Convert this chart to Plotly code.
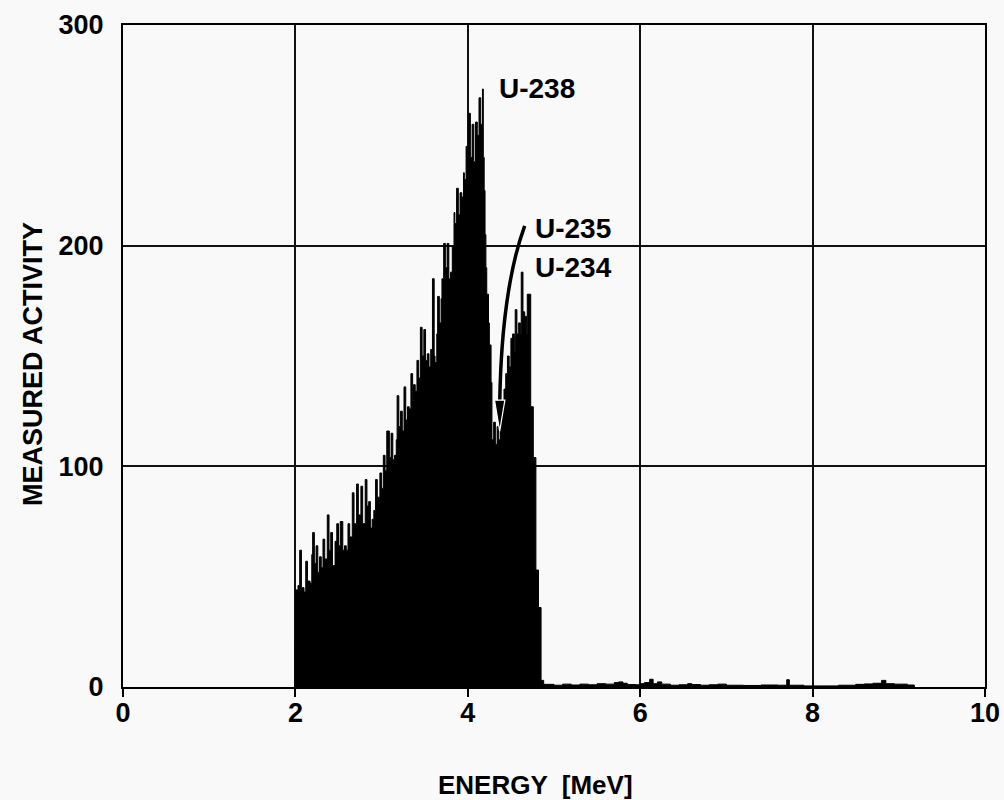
import plotly.graph_objects as go

# Alpha spectrum: energy (MeV) and measured activity (counts)
energy = [
    1.99, 2.00, 2.03, 2.05, 2.07, 2.10, 2.12, 2.14, 2.17, 2.19, 2.20, 2.22, 2.24, 2.26, 2.28,
    2.30, 2.32, 2.34, 2.37, 2.39, 2.41, 2.43, 2.46, 2.48, 2.50, 2.52, 2.55, 2.57, 2.59, 2.61,
    2.63, 2.66, 2.68, 2.71, 2.73, 2.76, 2.78, 2.81, 2.83, 2.85, 2.87, 2.89, 2.91, 2.93, 2.95,
    2.98, 3.00, 3.02, 3.04, 3.06, 3.09, 3.11, 3.13, 3.15, 3.17, 3.18, 3.20, 3.22, 3.24, 3.26,
    3.28, 3.30, 3.32, 3.34, 3.36, 3.37, 3.39, 3.41, 3.43, 3.45, 3.47, 3.49, 3.51, 3.53, 3.55,
    3.57, 3.58, 3.59, 3.61, 3.62, 3.64, 3.65, 3.67, 3.69, 3.70, 3.72, 3.74, 3.76, 3.78, 3.80,
    3.82, 3.84, 3.85, 3.87, 3.89, 3.91, 3.93, 3.95, 3.96, 3.98, 3.99, 4.01, 4.03, 4.05, 4.07,
    4.09, 4.11, 4.13, 4.15, 4.17, 4.18, 4.19, 4.20, 4.21, 4.22, 4.24, 4.25, 4.27, 4.28, 4.30,
    4.32, 4.34, 4.36, 4.38, 4.40, 4.42, 4.44, 4.46, 4.48, 4.50, 4.52, 4.54, 4.55, 4.57, 4.59,
    4.61, 4.62, 4.64, 4.66, 4.68, 4.69, 4.72, 4.73, 4.76, 4.79, 4.82, 4.85, 4.88,
    5.00, 5.10, 5.20, 5.30, 5.40, 5.50, 5.60, 5.70, 5.75, 5.80, 5.85, 5.95, 6.00, 6.05, 6.11,
    6.15, 6.20, 6.25, 6.35, 6.45, 6.55, 6.60, 6.70, 6.80, 6.90, 7.00, 7.20, 7.40, 7.60, 7.70,
    7.73, 7.90, 8.10, 8.30, 8.50, 8.60, 8.70, 8.80, 8.85, 8.95, 9.10, 9.18,
]
activity = [
    20, 44, 46, 62, 45, 43, 57, 48, 47, 60, 70, 56, 64, 52, 59,
    54, 67, 58, 78, 62, 70, 55, 66, 74, 64, 75, 62, 64, 62, 74,
    68, 88, 74, 92, 78, 91, 74, 94, 82, 84, 72, 76, 80, 94, 86,
    97, 90, 105, 98, 116, 104, 115, 103, 105, 112, 132, 118, 125, 116, 136,
    121, 127, 126, 142, 130, 137, 134, 148, 140, 163, 150, 162, 148, 151, 145,
    153, 150, 185, 150, 147, 160, 177, 165, 176, 185, 201, 190, 201, 185, 188,
    200, 215, 210, 226, 214, 224, 222, 233, 230, 245, 240, 260, 240, 255, 238,
    256, 250, 267, 255, 271, 240, 225, 205, 190, 178, 165, 155, 138, 112, 120,
    110, 118, 112, 122, 128, 135, 142, 150, 145, 158, 160, 152, 171, 160, 165,
    160, 188, 170, 168, 160, 178, 178, 127, 104, 53, 36, 3, 1.2,
    0.8, 1.3, 0.9, 1.3, 1.0, 1.5, 1.3, 2.0, 2.3, 1.7, 1.1, 1.0, 1.5, 2.0, 3.5,
    1.5, 2.3, 1.3, 0.8, 1.0, 1.5, 1.1, 0.8, 1.0, 1.3, 0.8, 0.7, 0.9, 0.8, 3.3,
    0.8, 0.5, 0.5, 0.8, 1.2, 1.4, 1.7, 3.0, 1.5, 1.3, 0.9, 0,
]

x_ticks = [0, 2, 4, 6, 8, 10]
y_ticks = [0, 100, 200, 300]

peak_labels = ["U-238", "U-235", "U-234"]
peak_label_x = [4.34, 4.76, 4.76]
peak_label_y = [271, 208, 190]

FONT = "Liberation Sans, Arial, Helvetica, sans-serif"
BG = "#f9f9f9"

fig = go.Figure()
fig.add_trace(go.Scatter(
    x=energy, y=activity, mode="lines", line=dict(color="black", width=1, shape="hv"),
    fill="tozeroy", fillcolor="black", showlegend=False, hoverinfo="x+y",
))

# curved arrow from the U-235 label to the small U-235 peak
fig.add_shape(type="path", xref="x", yref="y",
              path="M 4.66,209 Q 4.39,180 4.37,128",
              line=dict(color="black", width=3.5), layer="above")
fig.add_shape(type="path", xref="x", yref="y",
              path="M 4.31,130 L 4.43,130 L 4.37,116 Z",
              fillcolor="black", line=dict(color="white", width=1.2), layer="above")

for t, xx, yy in zip(peak_labels, peak_label_x, peak_label_y):
    fig.add_annotation(x=xx, y=yy, xref="x", yref="y", text=t, showarrow=False,
                       xanchor="left", yanchor="middle",
                       font=dict(family=FONT, size=28, color="black", weight="bold"))

fig.add_annotation(x=0.479, y=-0.148, xref="paper", yref="paper", text="ENERGY  [MeV]",
                   showarrow=False, xanchor="center", yanchor="middle",
                   font=dict(family=FONT, size=26, color="black", weight="bold"))
fig.add_annotation(x=-0.1044, y=0.488, xref="paper", yref="paper", text="MEASURED ACTIVITY",
                   showarrow=False, textangle=-90, xanchor="center", yanchor="middle",
                   font=dict(family=FONT, size=27, color="black", weight="bold"))

fig.update_xaxes(range=[0, 10], tickvals=x_ticks, ticktext=[str(v) for v in x_ticks],
                 showgrid=True, gridcolor="#111", gridwidth=1.5,
                 showline=True, linecolor="black", linewidth=2, mirror=True,
                 ticks="outside", ticklen=1, tickwidth=1.5, tickcolor="black",
                 minor=dict(tickvals=x_ticks, ticks="outside", ticklen=8, tickwidth=1.5,
                            tickcolor="black", showgrid=False),
                 tickfont=dict(family=FONT, size=27, color="black", weight="bold"),
                 zeroline=False, fixedrange=True, automargin=False)
fig.update_yaxes(range=[0, 300], tickvals=y_ticks, ticktext=[str(v) for v in y_ticks],
                 showgrid=True, gridcolor="#111", gridwidth=1.5,
                 showline=True, linecolor="black", linewidth=2, mirror=True,
                 ticks="outside", ticklen=12, tickcolor="rgba(0,0,0,0)",
                 tickfont=dict(family=FONT, size=27, color="black", weight="bold"),
                 zeroline=False, fixedrange=True, automargin=False)

fig.update_layout(
    width=1004, height=800,
    margin=dict(l=123, r=19, t=25, b=113, autoexpand=False),
    paper_bgcolor=BG, plot_bgcolor=BG,
    showlegend=False,
)

fig.write_html("out.html")
